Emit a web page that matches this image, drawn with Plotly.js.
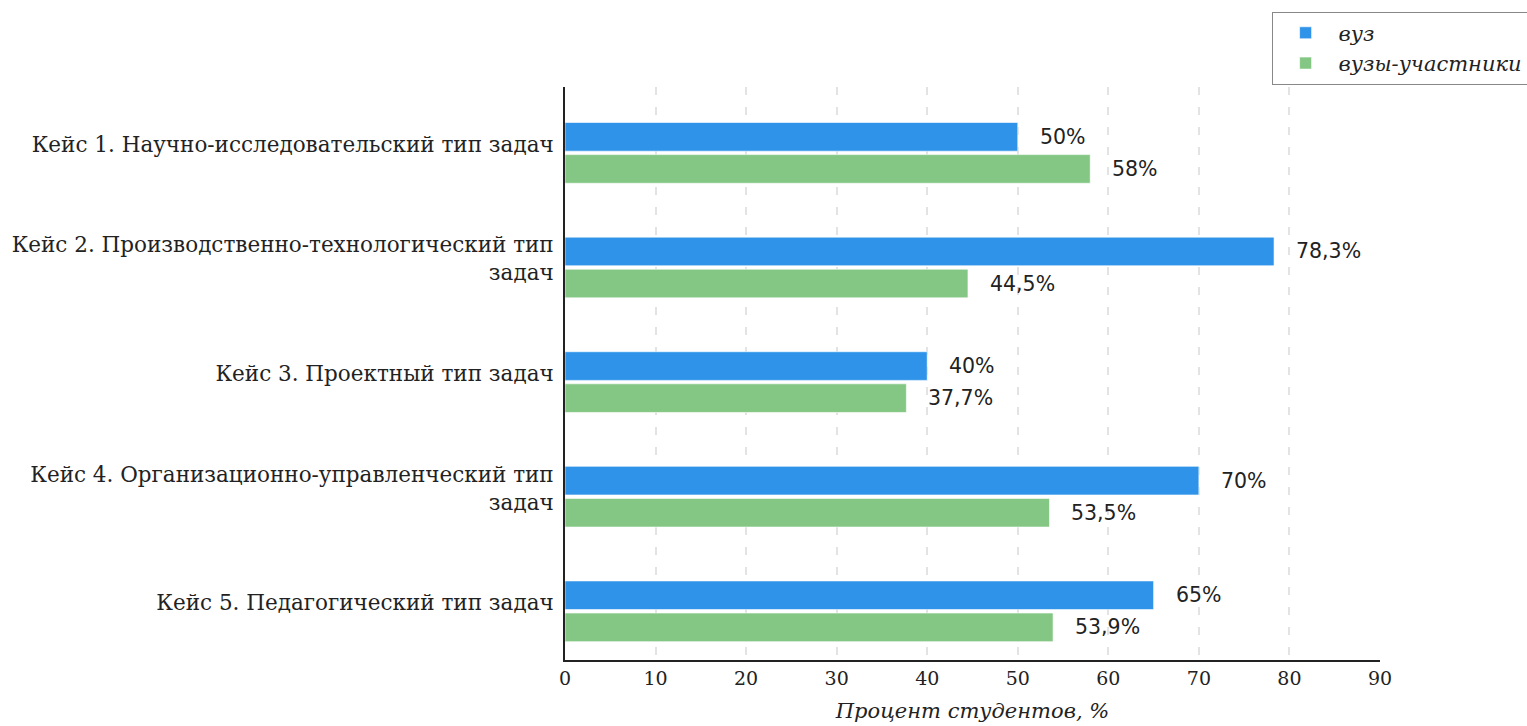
<!DOCTYPE html>
<html>
<head>
<meta charset="utf-8">
<script src="https://cdn.plot.ly/plotly-3.0.1.min.js"></script>
<style>html,body{margin:0;padding:0;background:#fff;}#chart{width:1527px;height:726px;}</style>
</head>
<body>
<div id="chart"></div>
<script>
var categories = [
  "Кейс 1. Научно-исследовательский тип задач",
  "Кейс 2. Производственно-технологический тип<br>задач",
  "Кейс 3. Проектный тип задач",
  "Кейс 4. Организационно-управленческий тип<br>задач",
  "Кейс 5. Педагогический тип задач"
];
var seriesNames = ["вуз", "вузы-участники"];
var vuzValues = [50, 78.3, 40, 70, 65];
var participantValues = [58, 44.5, 37.7, 53.5, 53.9];
var xTicks = [0, 10, 20, 30, 40, 50, 60, 70, 80, 90];

var colors = ["#2f93e9", "#84c784"];
var barWidth = 0.25;
var offsets = [-0.19, 0.09];
var serif = "DejaVu Serif";

function fmt(v) { return String(v).replace(".", ",") + "%"; }

var idx = categories.map(function (_, i) { return i; });
var seriesValues = [vuzValues, participantValues];

var traces = seriesValues.map(function (vals, s) {
  return {
    type: "bar",
    orientation: "h",
    name: seriesNames[s],
    x: vals,
    y: idx,
    width: barWidth,
    offset: offsets[s],
    marker: { color: colors[s], line: { color: "rgba(255,255,255,0.6)", width: 1 } },
    hoverinfo: "x+name"
  };
});

var annotations = [];
seriesValues.forEach(function (vals, s) {
  vals.forEach(function (v, i) {
    annotations.push({
      x: v, y: i + offsets[s] + barWidth / 2,
      xref: "x", yref: "y",
      text: fmt(v), showarrow: false,
      xanchor: "left", yanchor: "middle", xshift: 20,
      font: { family: "DejaVu Sans", size: 20.5, color: "#222" }
    });
  });
});

var layout = {
  width: 1527, height: 726,
  paper_bgcolor: "#fff", plot_bgcolor: "#fff",
  margin: { l: 565, r: 147, t: 87, b: 66, autoexpand: false },
  barmode: "group",
  showlegend: true,
  legend: {
    x: 0.867, y: 0.984, xref: "paper", yref: "container",
    xanchor: "left", yanchor: "top",
    bordercolor: "#888", borderwidth: 1,
    font: { family: serif, size: 21, style: "italic", color: "#222" },
    traceorder: "normal",
    itemwidth: 56
  },
  xaxis: {
    range: [0, 90],
    tickvals: xTicks,
    ticktext: xTicks.map(String),
    showgrid: true, gridcolor: "#e3e3e3", gridwidth: 2, griddash: "8px,12px",
    zeroline: false,
    showline: true, linecolor: "#222", linewidth: 2,
    ticks: "",
    tickfont: { family: serif, size: 19, color: "#222" },
    title: { text: "Процент студентов, %", font: { family: serif, size: 21, style: "italic", color: "#222" }, standoff: 16 },
    fixedrange: true
  },
  yaxis: {
    range: [4.5, -0.5],
    tickmode: "array",
    tickvals: idx,
    ticktext: categories,
    showgrid: false, zeroline: false,
    showline: true, linecolor: "#222", linewidth: 2,
    ticks: "", ticklabelstandoff: 5,
    tickfont: { family: serif, size: 21.5, color: "#222" },
    fixedrange: true
  },
  annotations: annotations
};

Plotly.newPlot("chart", traces, layout, { displayModeBar: false, staticPlot: true });
</script>
</body>
</html>
